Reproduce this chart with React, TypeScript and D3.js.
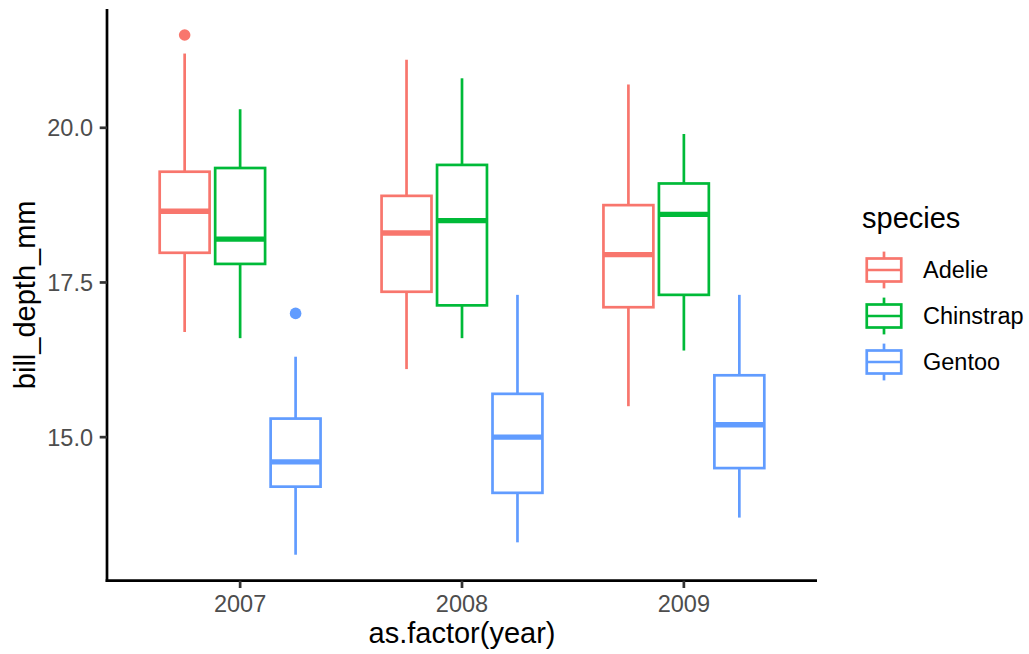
import React from "react";
import * as d3 from "d3";

const years = ["2007", "2008", "2009"];
const species = ["Adelie", "Chinstrap", "Gentoo"];
const colors = ["#F8766D", "#00BA38", "#619CFF"];

// [year][species] = [lowerWhisker, q1, median, q3, upperWhisker]
const adelieStats = [
  [16.7, 17.98, 18.65, 19.29, 21.2],
  [16.1, 17.35, 18.3, 18.9, 21.1],
  [15.5, 17.1, 17.95, 18.75, 20.7],
];
const chinstrapStats = [
  [16.6, 17.8, 18.2, 19.35, 20.3],
  [16.6, 17.13, 18.5, 19.4, 20.8],
  [16.4, 17.3, 18.6, 19.1, 19.9],
];
const gentooStats = [
  [13.1, 14.2, 14.6, 15.3, 16.3],
  [13.3, 14.1, 15.0, 15.7, 17.3],
  [13.7, 14.5, 15.2, 16.0, 17.3],
];
// outliers: [yearIndex, speciesIndex, value]
const outliers: [number, number, number][] = [
  [0, 0, 21.5],
  [0, 2, 17.0],
];
const yTicks = [15.0, 17.5, 20.0];

const FONT = "'Liberation Sans', Arial, Helvetica, sans-serif";

export default function App() {
  const W = 1029, H = 654;
  const panel = { left: 107, right: 817, top: 9, bottom: 580.7 };
  const dataMin = 13.1, dataMax = 21.5;
  const pad = (dataMax - dataMin) * 0.05;
  const y = d3.scaleLinear().domain([dataMin - pad, dataMax + pad]).range([panel.bottom, panel.top]);
  const x = d3.scaleLinear().domain([0.4, 3.6]).range([panel.left, panel.right]);
  const allStats = [adelieStats, chinstrapStats, gentooStats];
  const dodge = 0.25;
  const halfW = 0.1125;
  const lw = 2.7;

  const boxes: React.ReactNode[] = [];
  years.forEach((yr, yi) => {
    species.forEach((sp, si) => {
      const [lo, q1, med, q3, hi] = allStats[si][yi];
      const cx = yi + 1 + (si - 1) * dodge;
      const x0 = x(cx - halfW), x1 = x(cx + halfW), xc = x(cx);
      const c = colors[si];
      boxes.push(
        <g key={`${yr}-${sp}`}>
          <line x1={xc} x2={xc} y1={y(hi)} y2={y(q3)} stroke={c} strokeWidth={lw} />
          <line x1={xc} x2={xc} y1={y(q1)} y2={y(lo)} stroke={c} strokeWidth={lw} />
          <rect x={x0} y={y(q3)} width={x1 - x0} height={y(q1) - y(q3)} fill="white" stroke={c} strokeWidth={lw} />
          <line x1={x0} x2={x1} y1={y(med)} y2={y(med)} stroke={c} strokeWidth={lw * 2} />
        </g>
      );
    });
  });

  const keySize = 46;
  const legendX = 861;
  const legendCenters = [270, 316, 362];

  return (
    <svg width={W} height={H} style={{ position: "absolute", left: 0, top: 0, background: "white" }} fontFamily={FONT}>
      <rect width={W} height={H} fill="white" />
      {boxes}
      {outliers.map(([yi, si, v], i) => (
        <circle key={i} cx={x(yi + 1 + (si - 1) * dodge)} cy={y(v)} r={5.8} fill={colors[si]} />
      ))}
      {/* axes */}
      <line x1={panel.left} x2={panel.left} y1={panel.top} y2={panel.bottom + lw / 2} stroke="black" strokeWidth={lw} />
      <line x1={panel.left - lw / 2} x2={panel.right} y1={panel.bottom} y2={panel.bottom} stroke="black" strokeWidth={lw} />
      {yTicks.map((t) => (
        <g key={t}>
          <line x1={panel.left - 7.3} x2={panel.left} y1={y(t)} y2={y(t)} stroke="#333333" strokeWidth={lw} />
          <text x={93} y={y(t) + 8.4} textAnchor="end" fontSize={23.5} fill="#4D4D4D">{t.toFixed(1)}</text>
        </g>
      ))}
      {years.map((yr, i) => (
        <g key={yr}>
          <line x1={x(i + 1)} x2={x(i + 1)} y1={panel.bottom} y2={panel.bottom + 7.3} stroke="#333333" strokeWidth={lw} />
          <text x={x(i + 1)} y={612} textAnchor="middle" fontSize={23.5} fill="#4D4D4D">{yr}</text>
        </g>
      ))}
      <text x={(panel.left + panel.right) / 2} y={643} textAnchor="middle" fontSize={29} fill="black">as.factor(year)</text>
      <text transform={`translate(35, ${(panel.top + panel.bottom) / 2}) rotate(-90)`} textAnchor="middle" fontSize={29} fill="black">bill_depth_mm</text>
      {/* legend */}
      <text x={862} y={228} fontSize={29} fill="black">species</text>
      {species.map((sp, i) => {
        const cy = legendCenters[i];
        const top = cy - keySize / 2;
        const kx = (f: number) => legendX + f * keySize;
        const ky = (f: number) => top + (1 - f) * keySize;
        const c = colors[i];
        return (
          <g key={sp}>
            <line x1={kx(0.5)} x2={kx(0.5)} y1={ky(0.9)} y2={ky(0.75)} stroke={c} strokeWidth={lw} />
            <line x1={kx(0.5)} x2={kx(0.5)} y1={ky(0.25)} y2={ky(0.1)} stroke={c} strokeWidth={lw} />
            <rect x={kx(0.125)} y={ky(0.75)} width={keySize * 0.75} height={keySize * 0.5} fill="white" stroke={c} strokeWidth={lw} />
            <line x1={kx(0.125)} x2={kx(0.875)} y1={ky(0.5)} y2={ky(0.5)} stroke={c} strokeWidth={lw} />
            <text x={923} y={cy + 7.5} fontSize={23.5} fill="black">{sp}</text>
          </g>
        );
      })}
    </svg>
  );
}
